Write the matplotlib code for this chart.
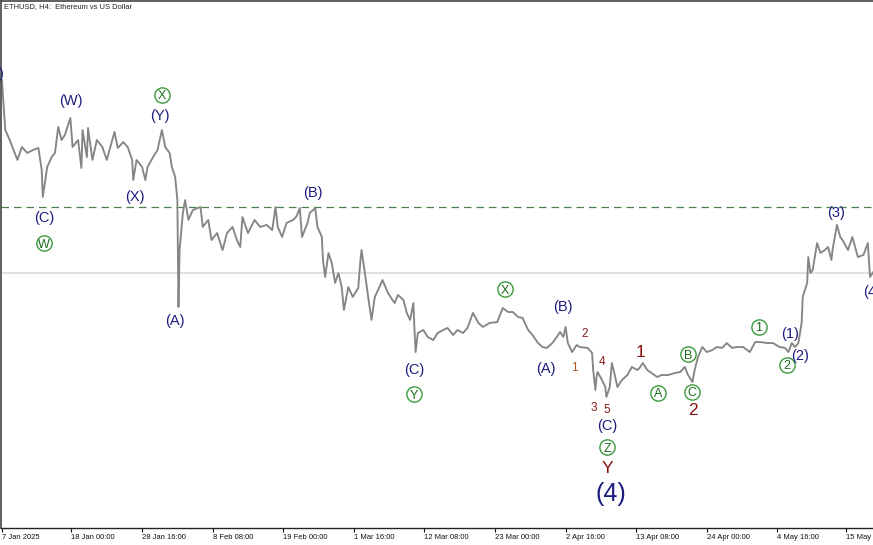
import matplotlib
matplotlib.use("Agg")
import matplotlib.pyplot as plt
import pandas as pd

# ---- data (4H bars counted from 2025-01-07 12:00) ----
start = pd.Timestamp("2025-01-07 12:00")

bars = [0, 1, 3, 7, 14, 18, 23, 28, 33, 36, 37, 41, 45, 48, 51, 54, 57, 62, 64, 69,
        72, 73, 77, 78, 82, 86, 91, 95, 100, 102, 105, 110, 114, 118, 119, 122, 127, 130, 132, 137,
        141, 145, 148, 152, 154, 157, 159, 160, 161, 164, 166, 169, 173, 180, 182, 187, 190, 195, 200, 204,
        209, 213, 216, 218, 223, 229, 234, 240, 245, 248, 250, 254, 258, 264, 267, 270, 272, 277, 279, 284,
        286, 290, 291, 293, 296, 299, 302, 305, 308, 310, 314, 318, 323, 325, 326, 329, 332, 335, 338, 341,
        345, 350, 354, 356, 359, 364, 367, 370, 373, 374, 375, 377, 382, 386, 391, 395, 400, 404, 409, 413,
        418, 422, 427, 432, 436, 442, 449, 454, 459, 463, 468, 472, 477, 481, 486, 490, 494, 499, 503, 506,
        509, 511, 513, 517, 521, 524, 531, 535, 536, 538, 539, 540, 544, 547, 548, 551, 553, 556, 558, 562,
        567, 571, 576, 578, 581, 585, 589, 594, 598, 604, 610, 615, 619, 622, 626, 628, 631, 635, 639, 644,
        648, 653, 657, 662, 666, 672, 678, 683, 687, 694, 699, 705, 710, 713, 716, 719, 722, 725, 726, 730,
        731, 733, 735, 739, 742, 746, 749, 752, 753, 757, 760, 762, 767, 771, 776, 781, 785, 787, 790]

prices = [3822, 3686, 3444, 3368, 3217, 3315, 3270, 3292, 3308, 3141, 2937, 3164, 3239, 3270, 3467, 3368, 3406, 3535, 3315, 3368,
          3156, 3444, 3239, 3459, 3217, 3368, 3315, 3217, 3368, 3429, 3308, 3353, 3315, 3217, 3065, 3217, 3164, 3065, 3164, 3239,
          3292, 3444, 3315, 3270, 3164, 3088, 2914, 2104, 2535, 2816, 2914, 2763, 2838, 2861, 2710, 2763, 2611, 2664, 2535, 2664,
          2710, 2611, 2558, 2785, 2664, 2763, 2710, 2725, 2687, 2861, 2710, 2634, 2740, 2763, 2790, 2853, 2634, 2740, 2816, 2853,
          2710, 2634, 2460, 2331, 2513, 2437, 2286, 2361, 2255, 2081, 2255, 2180, 2248, 2460, 2535, 2361, 2180, 2006, 2180, 2233,
          2308, 2210, 2157, 2134, 2195, 2157, 2059, 2006, 2134, 1930, 1763, 1907, 1930, 1877, 1854, 1907, 1930, 1945, 1892, 1930,
          1907, 1945, 2059, 1983, 1953, 1983, 1990, 2096, 2066, 2066, 2028, 2021, 1930, 1892, 1831, 1801, 1794, 1831, 1877, 1915,
          1877, 1953, 1831, 1763, 1816, 1801, 1794, 1756, 1627, 1476, 1574, 1612, 1551, 1498, 1423, 1498, 1680, 1574, 1498, 1551,
          1589, 1650, 1627, 1642, 1680, 1627, 1604, 1574, 1589, 1589, 1604, 1612, 1650, 1589, 1536, 1627, 1725, 1801, 1763, 1778,
          1801, 1794, 1831, 1794, 1801, 1801, 1763, 1839, 1839, 1831, 1831, 1801, 1794, 1763, 1831, 1801, 1831, 1983, 2180, 2286,
          2482, 2361, 2384, 2588, 2513, 2535, 2558, 2460, 2535, 2725, 2634, 2611, 2535, 2634, 2482, 2498, 2588, 2331, 2369]

dashed_level = 2861
grey_level = 2365

tick_dates = ["2025-01-07 12:00", "2025-01-18 00:00", "2025-01-28 16:00", "2025-02-08 08:00",
              "2025-02-19 00:00", "2025-03-01 16:00", "2025-03-12 08:00", "2025-03-23 00:00",
              "2025-04-02 16:00", "2025-04-13 08:00", "2025-04-24 00:00", "2025-05-04 16:00",
              "2025-05-15 00:00"]
tick_labels = ["7 Jan 2025", "18 Jan 00:00", "28 Jan 16:00", "8 Feb 08:00", "19 Feb 00:00",
               "1 Mar 16:00", "12 Mar 08:00", "23 Mar 00:00", "2 Apr 16:00", "13 Apr 08:00",
               "24 Apr 00:00", "4 May 16:00", "15 May 00:00"]

# wave labels: text, bar position, price position, style
wave_text  = ["(5)", "(W)", "X", "(Y)", "(X)", "(C)", "W", "(A)", "(B)", "(C)", "Y",
              "X", "(B)", "(A)", "2", "1", "4", "3", "5", "(C)", "Z", "Y", "(4)",
              "1", "A", "B", "C", "2", "1", "(1)", "2", "(2)", "(3)", "(4)"]
wave_bar   = [1.4, 62.6, 145, 143, 120.6, 38, 38, 157, 282, 373.5, 373.5,
              456, 508.6, 493, 528.5, 518.6, 544, 536.7, 548.5, 548.5, 548.5, 548.5, 552,
              579, 594.7, 622, 625.6, 626.5, 686, 714.4, 711.7, 723.5, 756, 788.7]
wave_price = [3868, 3663, 3709, 3550, 2937, 2778, 2588, 1998, 2967, 1627, 1445,
              2240, 2104, 1635, 1900, 1642, 1688, 1339, 1324, 1203, 1044, 878, 688,
              1763, 1453, 1748, 1461, 1324, 1953, 1900, 1665, 1733, 2816, 2218]
wave_style = ["navy_r", "navy", "circ", "navy", "navy", "navy", "circ", "navy", "navy", "navy", "circ",
              "circ", "navy", "navy", "red_s", "orange_s", "red_s", "red_s", "red_s", "navy", "circ", "red_m", "navy_big",
              "red_m", "circ", "circ", "circ", "red_m", "circ", "navy", "circ", "navy", "navy", "navy"]

# ---- figure ----
W, H = 873, 545
fig = plt.figure(figsize=(W / 100, H / 100), dpi=100)
fig.patch.set_facecolor("white")
ax = fig.add_axes([1 / W, 17 / H, 872 / W, 527 / H])
ax.set_facecolor("white")

ax.axhline(grey_level, color="#dddddd", lw=1.3, zorder=1)
ax.axhline(dashed_level, color="#4d7f4d", lw=0.9, ls=(0, (6, 4)), zorder=1)

ax.plot(bars, prices, color="#858585", lw=1.35, zorder=2)

ax.set_xlim(-0.9, 789.7)
ax.set_ylim(431.0, 4420.4)

tick_pos = [(pd.Timestamp(d) - start) / pd.Timedelta(hours=4) for d in tick_dates]
ax.set_xticks(tick_pos)
ax.set_xticklabels(tick_labels, fontsize=5.5, family="Liberation Sans", ha="left", color="#111111")
ax.tick_params(axis="x", direction="out", length=3, width=0.8, pad=1, colors="#111111")
ax.set_yticks([])

for s in ["top", "left"]:
    ax.spines[s].set_color("#444444")
    ax.spines[s].set_linewidth(1.2)
ax.spines["bottom"].set_color("#222222")
ax.spines["bottom"].set_linewidth(1.0)
ax.spines["right"].set_visible(False)

navy = "#1c1c80"
for t, b, p, st in zip(wave_text, wave_bar, wave_price, wave_style):
    if st == "navy":
        ax.text(b, p, t, color=navy, fontsize=10.5, family="Liberation Sans", ha="center", va="center", zorder=5)
    elif st == "navy_r":
        ax.text(b, p, t, color=navy, fontsize=10.5, family="Liberation Sans", ha="right", va="center", zorder=5)
    elif st == "navy_big":
        ax.text(b, p, t, color=navy, fontsize=18, family="Liberation Sans", ha="center", va="center", zorder=5)
    elif st == "red_s":
        ax.text(b, p, t, color="#8b1c1c", fontsize=8.5, family="Liberation Sans", ha="center", va="center", zorder=5)
    elif st == "orange_s":
        ax.text(b, p, t, color="#b0561e", fontsize=8.5, family="Liberation Sans", ha="center", va="center", zorder=5)
    elif st == "red_m":
        ax.text(b, p, t, color="#8b1010", fontsize=12.5, family="Liberation Sans", ha="center", va="center", zorder=5)
    elif st == "circ":
        ax.plot([b], [p], marker="o", ms=11, mfc="none", mec="#3c9a3c", mew=1.0, zorder=5)
        ax.text(b, p, t, color="#1a6e1a", fontsize=9, family="Liberation Sans", ha="center",
                va="center_baseline", zorder=6)

fig.text(4 / W, 1 - 7 / H, "ETHUSD, H4:  Ethereum vs US Dollar", fontsize=5.4, family="Liberation Sans",
         color="#222222", ha="left", va="center")

fig.savefig("out.png", dpi=100, facecolor="white")
